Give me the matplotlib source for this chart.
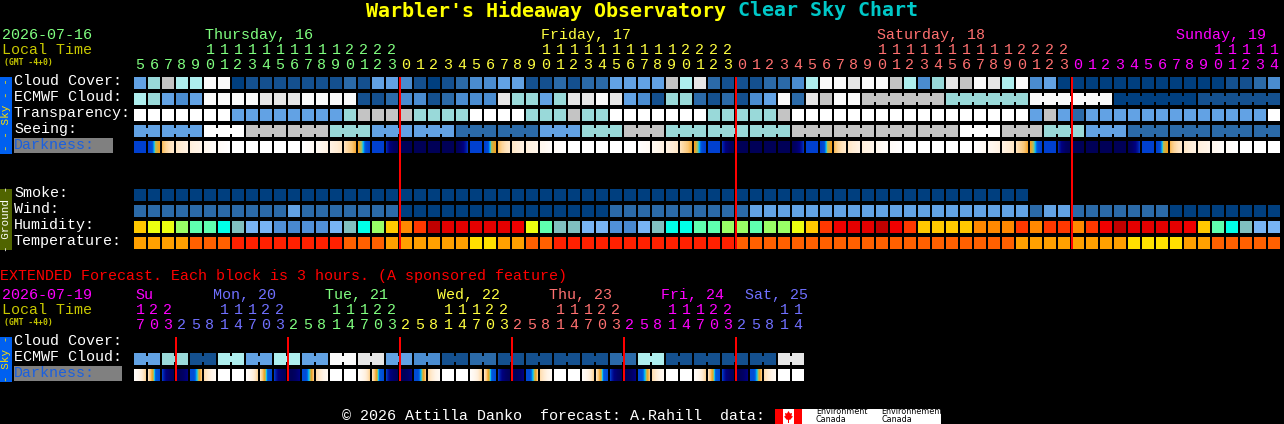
import numpy as np
import matplotlib
matplotlib.use("Agg")
import matplotlib.pyplot as plt
from matplotlib.colors import LinearSegmentedColormap

plt.rcParams['text.antialiased'] = True
MONO = 'Liberation Mono'

# ------------------ data ------------------
hours_main = [5,6,7,8,9,10,11,12,13,14,15,16,17,18,19,20,21,22,23,
              0,1,2,3,4,5,6,7,8,9,10,11,12,13,14,15,16,17,18,19,20,21,22,23,
              0,1,2,3,4,5,6,7,8,9,10,11,12,13,14,15,16,17,18,19,20,21,22,23,
              0,1,2,3,4,5,6,7,8,9,10,11,12,13,14]
days_main = [("Thursday, 16", 19), ("Friday, 17", 24), ("Saturday, 18", 24), ("Sunday, 19", 15)]
hours_ext = [17,20,23, 2,5,8,11,14,17,20,23, 2,5,8,11,14,17,20,23, 2,5,8,11,14,17,20,23,
             2,5,8,11,14,17,20,23, 2,5,8,11,14,17,20,23, 2,5,8,11,14]
days_ext = [("Su", 3), ("Mon, 20", 8), ("Tue, 21", 8), ("Wed, 22", 8), ("Thu, 23", 8), ("Fri, 24", 8), ("Sat, 25", 5)]
midnights_main = [19, 43, 67]
midnights_ext = [3, 11, 19, 27, 35, 43]

cloud_cover = [4,5,7,6,6,9,9,0,1,1,1,1,1,1,1,2,1,4,4,3,1,0,1,2,3,3,4,4,1,1,2,1,2,2,4,4,4,4,7,6,8,
               2,1,1,1,2,2,3,6,9,9,8,9,9,7,6,3,5,8,7,9,8,6,9,3,4,0,0,0,0,0,0,0,0,0,0,0,0,1,1,2,3]
ecmwf = [6,5,4,3,4,9,9,9,9,8,8,8,9,9,9,9,1,1,2,3,3,1,2,3,3,3,8,5,5,4,5,8,8,9,8,4,3,1,5,5,2,1,2,1,3,4,
         9,2,8,7,9,9,7,7,7,7,7,7,5,5,5,5,5,5,9,9,9,9,9,9,0,0,0,0,0,0,1,1,1,1,1,1]
transparency = [10,10,10,10,10,10,10,4,4,4,4,4,4,4,4,5,7,7,7,7,5,5,5,5,10,10,10,10,5,5,5,7,5,5,
                10,10,10,10,10,10,10,5,5,5,5,5,7,10,10,10,10,10,10,10,10,10,10,10,10,10,10,10,10,10,
                4,7,4,2,4,4,4,4,4,4,4,4,4,4,4,4,4,10]
seeing = [4,4,4,4,4,10,10,10,7,7,7,7,7,7,5,5,5,4,4,4,4,4,4,2,2,2,2,2,2,4,4,4,5,5,5,7,7,7,5,5,5,5,5,5,5,5,5,
          7,7,7,7,7,7,7,7,7,7,7,7,10,10,10,7,7,7,5,5,5,4,4,4,2,2,2,2,2,2,2,2,2,2,2]
smoke = [0]*64
wind = [2,2,2,2,2,2,2,2,2,2,2,4,2,2,2,2,2,2,2,0,0,0,0,0,0,0,0,0,0,0,0,0,0,0,2,2,2,2,2,2,2,2,2,2,
        4,4,4,4,4,4,4,4,4,4,4,4,4,4,4,4,4,4,4,4,2,4,4,2,2,2,2,2,2,2,0,0,0,0,0,0,0,0]
humidity = [0,1,1,2,3,3,4,5,6,6,7,8,7,7,6,5,4,2,0,9,10,11,12,12,12,12,12,13,1,3,5,5,6,6,7,8,6,5,4,4,3,3,2,2,3,2,2,
            1,0,10,13,12,12,11,13,10,0,0,0,0,9,9,9,10,9,10,10,9,10,13,11,12,12,12,12,13,0,3,4,5,6,6]
temperature = [1,1,1,1,2,2,2,3,3,3,3,3,3,3,3,2,2,2,1,1,1,1,1,1,0,0,1,1,2,2,3,3,3,3,3,3,3,3,3,3,3,3,3,
               2,2,2,2,2,2,2,2,2,2,2,2,2,2,2,2,2,2,2,2,1,1,1,1,1,1,1,1,0,0,0,0,1,1,2,2,2,2,2]
ext_ecmwf = [4,5,1,6,4,6,4,9,8,4,3,1,2,1,1,1,1,2,6,1,1,1,1,8]

W = (0, 0, 0, 0); BLUE = (.6, .6, .6, .6)
DAWN = (.6, .58, .43, .38); DUSK = (.38, .47, .58, .6)
M1 = (.33, .25, .2, .16); M2 = (.17, .14, .12, .1); M3 = (.12, .1, .09, .07); M4 = (.06, .05, .03, .02); M5 = (.03, .02, .01, 0)
E1 = (0, .02, .03, .04); E2 = (.05, .06, .08, .1); E3 = (.1, .12, .14, .17); E4 = (.2, .25, .3, .36)
FADE = (.66, .82, .92, .95); NIGHT = (.96, .96, .96, .96); RISE = (.95, .9, .78, .64)
darkness = [BLUE,DAWN,M1,M2,M3,M4,M5,W,W,W,W,W,E1,E2,E3,E4,DUSK,BLUE,FADE,NIGHT,NIGHT,NIGHT,NIGHT,RISE,
            BLUE,DAWN,M1,M2,M3,M4,M5,W,W,W,W,W,E1,E2,E3,E4,DUSK,BLUE,FADE,NIGHT,NIGHT,NIGHT,NIGHT,RISE,
            BLUE,DAWN,M1,M2,M3,M4,M5,W,W,W,W,W,E1,E2,E3,E4,DUSK,BLUE,FADE,NIGHT,NIGHT,NIGHT,NIGHT,RISE,
            BLUE,DAWN,M1,M2,M3,M4,M5,W,W,W]
X1 = (.02, .06, .12, .25); X2 = (.2, .38, .56, .58); X3 = (.62, .8, .9, .95); X4 = (.95, .95, .9, .8)
X5 = (.58, .58, .47, .3); X6 = (.22, .14, .08, .04)
ext_darkness = [X1,X2,X3,X4,X5,X6,W,W, X1,X2,X3,X4,X5,X6,W,W, X1,X2,X3,X4,X5,X6,W,W,
                X1,X2,X3,X4,X5,X6,W,W, X1,X2,X3,X4,X5,X6,W,W, X1,X2,X3,X4,X5,X6,W,W]

seeing_groups = [2] + [3]*26 + [2]
ecmwf_groups = [1]*52 + [6]*5
ext_groups = [2]*24

# ------------------ palettes ------------------
cloud_pal = ['#003f7f','#14508f','#2b6aa8','#4a8cd0','#62a2e4','#99d9d9','#aeeeee','#c4c4c4','#e6e6e6','#fafafa','#ffffff']
hum_pal = ['#ffc800','#ecff10','#99ff66','#5fffaf','#00ffe8','#80bfbf','#78b4f4','#5090d8','#4888d0',
           '#ff8800','#ff3800','#c00000','#e40000','#f00000']
temp_pal = ['#ffe000','#ffa000','#ff6000','#ff2000']
dark_cmap = LinearSegmentedColormap.from_list('dark', [
    (0, '#ffffff'), (.1, '#fff2e2'), (.2, '#ffe2ba'), (.3, '#fbc878'), (.38, '#f5a020'),
    (.45, '#a8c060'), (.5, '#00c0ff'), (.55, '#0060e0'), (.6, '#0040d0'),
    (.7, '#0018a0'), (.8, '#000080'), (.96, '#000058'), (1, '#000040')])
COL_THU = '#80ff80'; COL_FRI = '#ffff40'; COL_SAT = '#ff7070'; COL_SUN = '#ff00ff'; COL_MON = '#7070ff'
day_cols_main = [COL_THU, COL_FRI, COL_SAT, COL_SUN]
day_cols_ext = [COL_SUN, COL_MON, COL_THU, COL_FRI, COL_SAT, COL_SUN, COL_MON]

# ------------------ canvas ------------------
fig = plt.figure(figsize=(12.84, 4.24), dpi=100, facecolor='black')
ax = fig.add_axes([0, 0, 1, 1], facecolor='black')
ax.axis('off')
X0, PITCH, SIZE = 134, 14, 12
PT = 0.72
DY = 0

def txt(x, y, s, color='white', px=15, family=MONO, weight='normal', **kw):
    ax.text(x, y + DY, s, color=color, fontsize=px * PT, family=family, weight=weight,
            va=kw.pop('va', 'center'), ha=kw.pop('ha', 'left'), **kw)

def row(values, palette, y, groups=None):
    xs = [X0 + PITCH * i for i in range(len(values))]
    ax.bar(xs, [SIZE] * len(xs), SIZE, bottom=y, align='edge',
           color=[palette[v] for v in values], linewidth=0, antialiased=False, zorder=2)
    if groups:
        i = 0
        for g in groups:
            for k in range(i, i + g - 1):
                ax.bar(xs[k] + SIZE, 6, PITCH - SIZE, bottom=y + 3, align='edge',
                       color=palette[values[k]], linewidth=0, antialiased=False, zorder=2)
            i += g

def dark_row(values, y):
    for i, stops in enumerate(values):
        x = X0 + PITCH * i
        vals = np.interp(np.linspace(0, 3, SIZE), range(4), stops)[None, :]
        ax.imshow(vals, cmap=dark_cmap, vmin=0, vmax=1, aspect='auto', interpolation='nearest',
                  extent=(x, x + SIZE, y + SIZE, y), zorder=2)

def header(hours, days, y_tens, y_ones, cols, name_xs, y_day):
    i = 0
    for (name, n), col, nx in zip(days, cols, name_xs):
        txt(nx, y_day, name, col)
        for h in hours[i:i + n]:
            cx = X0 + PITCH * i + SIZE / 2
            txt(cx, y_ones, str(h % 10), col, ha='center')
            if h >= 10:
                txt(cx, y_tens, str(h // 10), col, ha='center')
            i += 1

# title
txt(366, 11, "Warbler's Hideaway Observatory", '#ffff00', px=20, family='DejaVu Sans Mono', weight='bold')
txt(738, 11, "Clear Sky Chart", '#00c8c8', px=20, family='DejaVu Sans Mono', weight='bold')

# main header
header(hours_main, days_main, 50, 65, day_cols_main, [205, 541, 877, 1176], 35)
txt(2, 35, "2026-07-16", COL_THU)
txt(2, 50, "Local Time", '#c8c800')
txt(4, 62, "(GMT -4+0)", '#c8c800', px=8, family='DejaVu Sans Mono', weight='bold')

# main rows
row(cloud_cover, cloud_pal, 77)
row(ecmwf, cloud_pal, 93, ecmwf_groups)
row(transparency, cloud_pal, 109)
row(seeing, cloud_pal, 125, seeing_groups)
dark_row(darkness, 141)
row(smoke, cloud_pal, 189)
row(wind, cloud_pal, 205)
row(humidity, hum_pal, 221)
row(temperature, temp_pal, 237)

for m in midnights_main:
    ax.bar(X0 + PITCH * m - 1, 172, 2, bottom=77, align='edge', color='#ff0000', linewidth=0, antialiased=False, zorder=3)

for y, s in zip([81, 97, 113, 129, 193, 209, 225, 241],
                ["Cloud Cover:", "ECMWF Cloud:", "Transparency:", "Seeing:", "Smoke:", "Wind:", "Humidity:", "Temperature:"]):
    txt(14, y, s)
ax.bar(14, 15, 99, bottom=138, align='edge', color='#808080', linewidth=0, antialiased=False)
txt(14, 145, "Darkness:", '#1a60e0')

# side strips
ax.bar(0, 77, 12, bottom=77, align='edge', color='#0060f0', linewidth=0, antialiased=False)
txt(6, 115, "- - Sky - -", '#ffe000', px=11, rotation=90, ha='center')
ax.bar(0, 61, 12, bottom=189, align='edge', color='#506400', linewidth=0, antialiased=False)
txt(6, 219, "- Ground -", 'white', px=11, rotation=90, ha='center')
ax.bar(0, 45, 12, bottom=337, align='edge', color='#0060f0', linewidth=0, antialiased=False)
txt(6, 359, "- Sky -", '#ffe000', px=11, rotation=90, ha='center')

# extended
txt(0, 276, "EXTENDED Forecast. Each block is 3 hours. (A sponsored feature)", '#ff0000')
header(hours_ext, days_ext, 310, 325, day_cols_ext, [135, 213, 325, 437, 549, 661, 745], 295)
txt(2, 295, "2026-07-19", COL_SUN)
txt(2, 310, "Local Time", '#c8c800')
txt(4, 322, "(GMT -4+0)", '#c8c800', px=8, family='DejaVu Sans Mono', weight='bold')
for y, s in zip([341, 357], ["Cloud Cover:", "ECMWF Cloud:"]):
    txt(14, y, s)
ax.bar(14, 15, 108, bottom=366, align='edge', color='#808080', linewidth=0, antialiased=False)
txt(14, 373, "Darkness:", '#1a60e0')

ext_vals = [v for v in ext_ecmwf for _ in (0, 1)]
row(ext_vals, cloud_pal, 353, ext_groups)
dark_row(ext_darkness, 369)
for m in midnights_ext:
    ax.bar(X0 + PITCH * m - 1, 44, 2, bottom=337, align='edge', color='#ff0000', linewidth=0, antialiased=False, zorder=3)

# footer
txt(342, 416, "\u00a9 2026 Attilla Danko  forecast: A.Rahill  data:", 'white')
ax.bar(775, 15, 166, bottom=409, align='edge', color='white', linewidth=0, antialiased=False)
ax.bar(775, 15, 8, bottom=409, align='edge', color='#ff0000', linewidth=0, antialiased=False, zorder=2)
ax.bar(794, 15, 8, bottom=409, align='edge', color='#ff0000', linewidth=0, antialiased=False, zorder=2)
ax.fill([788.5, 790, 792, 791.5, 793, 790, 789, 789, 788, 788, 787, 784, 785.5, 785, 787],
        [411, 413.5, 413, 416, 416.5, 420, 419.5, 423, 423, 419.5, 420, 416.5, 416, 413, 413.5],
        color='#ff0000', linewidth=0, zorder=3)
txt(816, 412, "Environment", 'black', px=8, family='DejaVu Sans')
txt(816, 419, "Canada", 'black', px=8, family='DejaVu Sans')
txt(881, 412, "Environnement", 'black', px=8, family='DejaVu Sans')
txt(881, 419, "Canada", 'black', px=8, family='DejaVu Sans')

ax.set_xlim(0, 1284)
ax.set_ylim(424, 0)
fig.savefig('out.png', dpi=100, facecolor='black')
